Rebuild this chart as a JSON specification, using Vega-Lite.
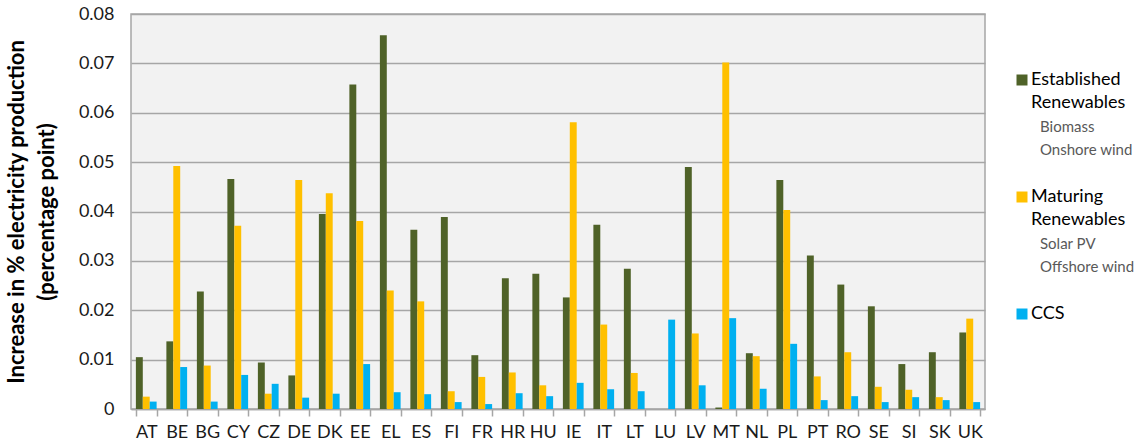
{
  "$schema": "https://vega.github.io/schema/vega-lite/v6.json",
  "background": "white",
  "padding": {"left": 4, "top": 4, "right": 0, "bottom": 0},
  "spacing": 10,
  "config": {"font": "Lato", "view": {"stroke": null}},
  "datasets": {
    "energy": [
      {"country": "AT", "Established Renewables": 0.0105, "Maturing Renewables": 0.0025, "CCS": 0.0015},
      {"country": "BE", "Established Renewables": 0.0137, "Maturing Renewables": 0.0492, "CCS": 0.0085},
      {"country": "BG", "Established Renewables": 0.0238, "Maturing Renewables": 0.0088, "CCS": 0.0015},
      {"country": "CY", "Established Renewables": 0.0466, "Maturing Renewables": 0.0371, "CCS": 0.0069},
      {"country": "CZ", "Established Renewables": 0.0094, "Maturing Renewables": 0.0031, "CCS": 0.0051},
      {"country": "DE", "Established Renewables": 0.0068, "Maturing Renewables": 0.0464, "CCS": 0.0023},
      {"country": "DK", "Established Renewables": 0.0395, "Maturing Renewables": 0.0437, "CCS": 0.0031},
      {"country": "EE", "Established Renewables": 0.0657, "Maturing Renewables": 0.0381, "CCS": 0.0091},
      {"country": "EL", "Established Renewables": 0.0757, "Maturing Renewables": 0.0240, "CCS": 0.0034},
      {"country": "ES", "Established Renewables": 0.0363, "Maturing Renewables": 0.0218, "CCS": 0.0030},
      {"country": "FI", "Established Renewables": 0.0389, "Maturing Renewables": 0.0036, "CCS": 0.0014},
      {"country": "FR", "Established Renewables": 0.0109, "Maturing Renewables": 0.0065, "CCS": 0.0010},
      {"country": "HR", "Established Renewables": 0.0265, "Maturing Renewables": 0.0074, "CCS": 0.0032},
      {"country": "HU", "Established Renewables": 0.0274, "Maturing Renewables": 0.0048, "CCS": 0.0026},
      {"country": "IE", "Established Renewables": 0.0226, "Maturing Renewables": 0.0581, "CCS": 0.0053},
      {"country": "IT", "Established Renewables": 0.0373, "Maturing Renewables": 0.0171, "CCS": 0.0040},
      {"country": "LT", "Established Renewables": 0.0284, "Maturing Renewables": 0.0073, "CCS": 0.0036},
      {"country": "LU", "Established Renewables": 0, "Maturing Renewables": 0, "CCS": 0.0181},
      {"country": "LV", "Established Renewables": 0.0490, "Maturing Renewables": 0.0153, "CCS": 0.0048},
      {"country": "MT", "Established Renewables": 0.0003, "Maturing Renewables": 0.0702, "CCS": 0.0184},
      {"country": "NL", "Established Renewables": 0.0113, "Maturing Renewables": 0.0107, "CCS": 0.0041},
      {"country": "PL", "Established Renewables": 0.0464, "Maturing Renewables": 0.0403, "CCS": 0.0132},
      {"country": "PT", "Established Renewables": 0.0311, "Maturing Renewables": 0.0066, "CCS": 0.0018},
      {"country": "RO", "Established Renewables": 0.0252, "Maturing Renewables": 0.0115, "CCS": 0.0026},
      {"country": "SE", "Established Renewables": 0.0208, "Maturing Renewables": 0.0045, "CCS": 0.0014},
      {"country": "SI", "Established Renewables": 0.0091, "Maturing Renewables": 0.0039, "CCS": 0.0024},
      {"country": "SK", "Established Renewables": 0.0115, "Maturing Renewables": 0.0024, "CCS": 0.0018},
      {"country": "UK", "Established Renewables": 0.0155, "Maturing Renewables": 0.0183, "CCS": 0.0014}
    ],
    "legend": [
      {"series": "Established Renewables", "text": "Established", "line": 0, "level": "head", "swatch": true},
      {"series": "Established Renewables", "text": "Renewables", "line": 1, "level": "head", "swatch": false},
      {"series": "Established Renewables", "text": "Biomass", "line": 2, "level": "detail", "swatch": false},
      {"series": "Established Renewables", "text": "Onshore wind", "line": 3, "level": "detail", "swatch": false},
      {"series": "Maturing Renewables", "text": "Maturing", "line": 5, "level": "head", "swatch": true},
      {"series": "Maturing Renewables", "text": "Renewables", "line": 6, "level": "head", "swatch": false},
      {"series": "Maturing Renewables", "text": "Solar PV", "line": 7, "level": "detail", "swatch": false},
      {"series": "Maturing Renewables", "text": "Offshore wind", "line": 8, "level": "detail", "swatch": false},
      {"series": "CCS", "text": "CCS", "line": 10, "level": "head", "swatch": true}
    ]
  },
  "hconcat": [
    {
      "width": 854,
      "height": 395,
      "view": {"fill": "#F2F2F2", "stroke": "#A6A6A6", "strokeWidth": 1.5},
      "data": {"name": "energy"},
      "transform": [{"fold": ["Established Renewables", "Maturing Renewables", "CCS"], "as": ["series", "value"]}],
      "mark": {"type": "bar"},
      "encoding": {
        "x": {
          "field": "country", "type": "nominal", "sort": null,
          "scale": {"paddingInner": 0.32, "paddingOuter": 0.16},
          "axis": {"title": null, "labelAngle": 0, "tickBand": "extent", "ticks": true, "tickSize": 7, "tickColor": "#A6A6A6", "tickWidth": 1.5, "domainColor": "#A6A6A6", "domainWidth": 1.5, "labelFontSize": 18, "labelPadding": 7, "labelColor": "#1a1a1a", "grid": false}
        },
        "xOffset": {"field": "series", "type": "nominal", "sort": ["Established Renewables", "Maturing Renewables", "CCS"], "scale": {"paddingInner": 0, "paddingOuter": 0}},
        "y": {
          "field": "value", "type": "quantitative",
          "scale": {"domain": [0, 0.08], "nice": false},
          "axis": {
            "title": ["Increase in % electricity production", "(percentage point)"],
            "values": [0, 0.01, 0.02, 0.03, 0.04, 0.05, 0.06, 0.07, 0.08],
            "labelExpr": "datum.value == 0 ? '0' : format(datum.value, '.2f')",
            "grid": true, "gridColor": "#A6A6A6", "gridWidth": 1.5,
            "ticks": false, "domain": false,
            "labelPadding": 17, "labelFontSize": 18, "labelColor": "#1a1a1a",
            "titleFontSize": 22, "titleFontWeight": "bold", "titleColor": "#000000", "titleLineHeight": 30, "titlePadding": 20
          }
        },
        "color": {
          "field": "series", "type": "nominal",
          "scale": {"domain": ["Established Renewables", "Maturing Renewables", "CCS"], "range": ["#4F6228", "#FFC000", "#00B0F0"]},
          "legend": null
        }
      }
    },
    {
      "width": 139,
      "height": 395,
      "view": {"stroke": null, "fill": null},
      "data": {"name": "legend"},
      "layer": [
        {
          "transform": [{"filter": "datum.swatch"}],
          "mark": {"type": "square", "size": 121, "opacity": 1, "filled": true},
          "encoding": {
            "x": {"datum": "swatch", "type": "nominal", "scale": {"type": "point", "domain": ["swatch", "head", "detail"], "range": [26, 44], "padding": 0}, "axis": null},
            "y": {"field": "line", "type": "quantitative", "scale": {"domain": [0, 10], "range": [66, 300]}, "axis": null},
            "color": {
              "field": "series", "type": "nominal",
              "scale": {"domain": ["Established Renewables", "Maturing Renewables", "CCS"], "range": ["#4F6228", "#FFC000", "#00B0F0"]},
              "legend": null
            }
          }
        },
        {
          "mark": {"type": "text", "align": "left", "baseline": "middle"},
          "encoding": {
            "x": {"field": "level", "type": "nominal", "scale": {"type": "point", "domain": ["swatch", "head", "detail"], "range": [26, 44], "padding": 0}, "axis": null},
            "y": {"field": "line", "type": "quantitative", "scale": {"domain": [0, 10], "range": [66, 300]}, "axis": null},
            "text": {"field": "text"},
            "size": {"condition": {"test": "datum.level == 'detail'", "value": 15}, "value": 18},
            "color": {"condition": {"test": "datum.level == 'detail'", "value": "#595959"}, "value": "#000000"}
          }
        }
      ]
    }
  ]
}
